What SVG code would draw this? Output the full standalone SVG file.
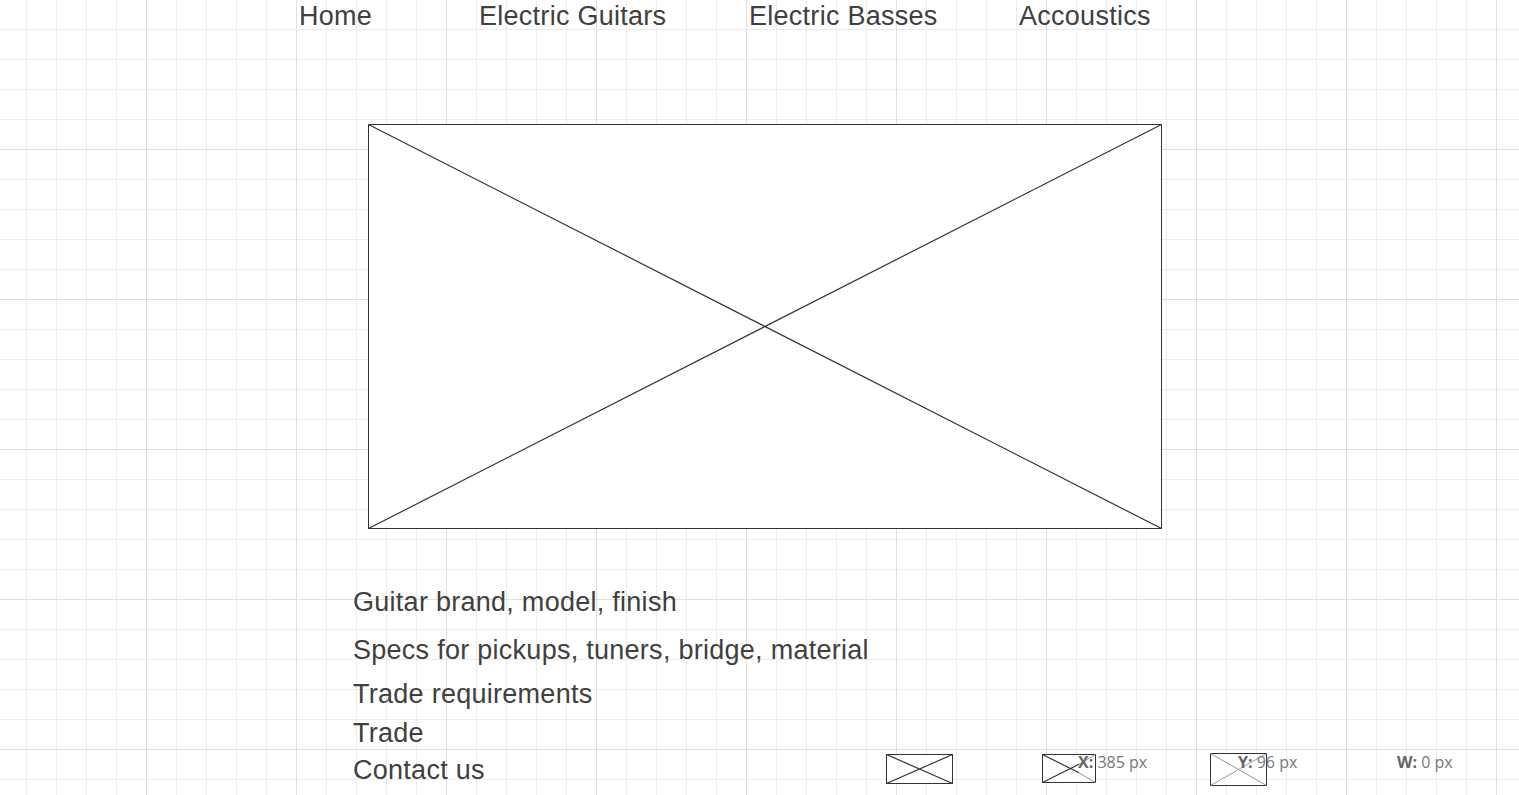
<svg xmlns="http://www.w3.org/2000/svg" width="1519" height="795" viewBox="0 0 1519 795">
  <defs>
    <pattern id="minor" patternUnits="userSpaceOnUse" x="26" y="29" width="30" height="30">
      <path d="M0.5 0V30M0 0.5H30" stroke="#ececec" stroke-width="1" fill="none"/>
    </pattern>
    <pattern id="major" patternUnits="userSpaceOnUse" x="146" y="149" width="150" height="150">
      <path d="M0.5 0V150M0 0.5H150" stroke="#e0e0e0" stroke-width="1" fill="none"/>
    </pattern>
  </defs>
  <style>
    .nav, .txt { font-family: "Liberation Sans", Arial, sans-serif; font-size: 27px; letter-spacing: 0.27px; fill: #404040; }
    .box { fill: #ffffff; stroke: #333333; stroke-width: 1; }
    .x { stroke: #333333; stroke-width: 1.2; fill: none; }
    .xl { stroke: #999999; stroke-width: 1; fill: none; }
    .info { font-family: "Open Sans", "DejaVu Sans", sans-serif; font-size: 16px; fill: #777777; }
    .info .b { font-weight: bold; fill: #666666; }
  </style>
  <rect width="1519" height="795" fill="#ffffff"/>
  <rect width="1519" height="795" fill="url(#minor)"/>
  <rect width="1519" height="795" fill="url(#major)"/>

  <g id="nav-home"><text class="nav" x="299" y="25">Home</text></g>
  <g id="nav-electric-guitars"><text class="nav" x="479" y="25">Electric Guitars</text></g>
  <g id="nav-electric-basses"><text class="nav" x="749" y="25">Electric Basses</text></g>
  <g id="nav-accoustics"><text class="nav" x="1019" y="25">Accoustics</text></g>

  <g id="main-image">
    <rect class="box" x="368.5" y="124.5" width="793" height="404"/>
    <path class="x" d="M368.5 124.5L1161.5 528.5M1161.5 124.5L368.5 528.5"/>
  </g>

  <g id="text-brand"><text class="txt" x="353" y="611">Guitar brand, model, finish</text></g>
  <g id="text-specs"><text class="txt" x="353" y="659">Specs for pickups, tuners, bridge, material</text></g>
  <g id="text-trade-req"><text class="txt" x="353" y="703">Trade requirements</text></g>
  <g id="text-trade"><text class="txt" x="353" y="742">Trade</text></g>
  <g id="text-contact"><text class="txt" x="353" y="779">Contact us</text></g>

  <g id="thumb-1">
    <rect class="box" x="886.5" y="754.5" width="66" height="29"/>
    <path class="x" d="M886.5 754.5L952.5 783.5M952.5 754.5L886.5 783.5"/>
  </g>
  <g id="thumb-2">
    <rect class="box" x="1042.5" y="754.5" width="53" height="28"/>
    <path class="x" d="M1042.5 754.5L1079 772.8M1042.5 782.5L1079 764.2"/>
    <path class="xl" d="M1079 772.8L1095.5 782.5M1079 764.2L1095.5 754.5"/>
  </g>
  <g id="thumb-3">
    <rect class="box" x="1210.5" y="753.5" width="56" height="32"/>
    <path class="xl" d="M1210.5 753.5L1266.5 785.5M1266.5 753.5L1210.5 785.5"/>
  </g>

  <g id="info-x"><text class="info" x="1078" y="768"><tspan class="b">X:</tspan> 385 px</text></g>
  <g id="info-y"><text class="info" x="1238" y="768"><tspan class="b">Y:</tspan> 96 px</text></g>
  <g id="info-w"><text class="info" x="1397" y="768"><tspan class="b">W:</tspan> 0 px</text></g>
</svg>
